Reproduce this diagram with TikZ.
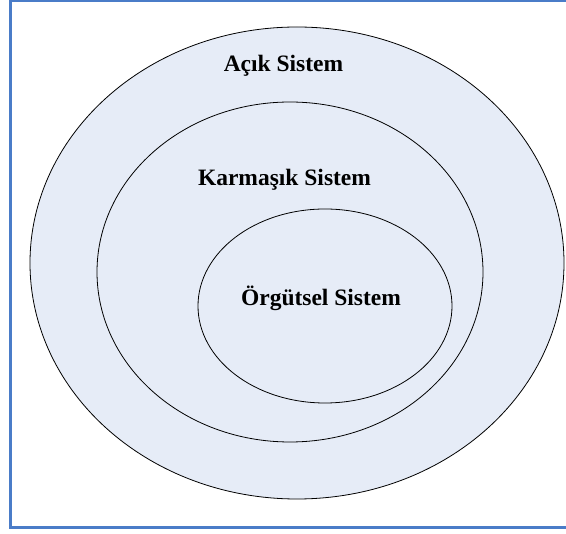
\documentclass[tikz,border=0pt]{standalone}
\usepackage{fontspec}
\setmainfont{Liberation Serif}
\definecolor{ringfill}{HTML}{E6ECF7}
\definecolor{frameblue}{HTML}{4A7CC8}
\begin{document}
\begin{tikzpicture}[x=1pt,y=-1pt,
  ring/.style={draw=black,line width=0.8pt,fill=ringfill},
  lbl/.style={font=\bfseries\fontsize{23.5}{26}\selectfont,inner sep=0pt,anchor=base},
  frame/.style={draw=frameblue,line width=3pt}]
  \useasboundingbox (0,0) rectangle (566,534);
  \begin{scope}
    \clip (0,0) rectangle (566,534);
    \draw[frame] (10,0.6) rectangle (580,527.3);
  \end{scope}
  % nested systems
  \path[ring] (297,263) ellipse [x radius=267, y radius=236];
  \path[ring] (290,272) ellipse [x radius=193, y radius=170];
  \path[ring] (325,306) ellipse [x radius=127, y radius=97];
  % labels
  \node[lbl] (acik) at (283.5,72) {Açık Sistem};
  \node[lbl] (karmasik) at (284.5,186) {Karmaşık Sistem};
  \node[lbl] (orgutsel) at (321,306) {Örgütsel Sistem};
\end{tikzpicture}
\end{document}
